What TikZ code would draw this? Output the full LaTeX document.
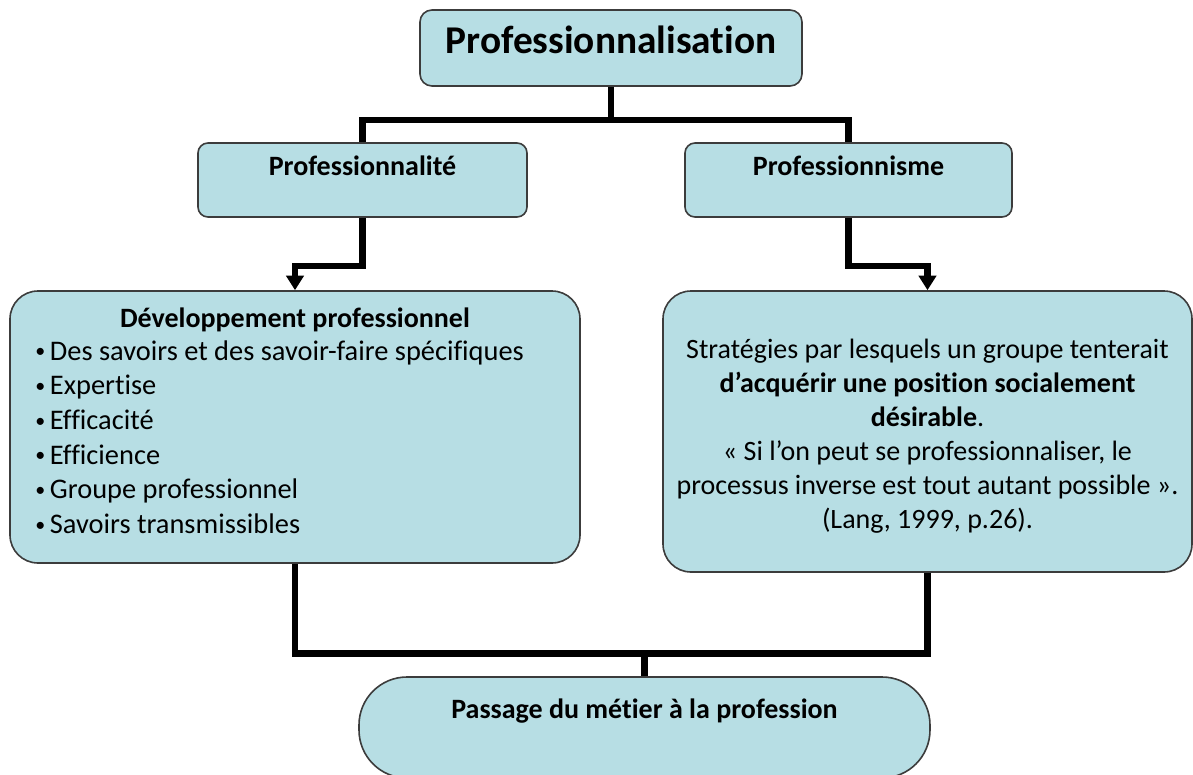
\documentclass[tikz,border=0pt]{standalone}
\usepackage{fontspec}
\setmainfont{Carlito}[Ligatures=NoCommon]
\usetikzlibrary{arrows.meta}

\definecolor{boxblue}{RGB}{183,222,228}
\definecolor{boxedge}{RGB}{60,60,60}
\newcommand\pxu{0.75pt}
\newcommand\listdot{\makebox[11pt][l]{\raisebox{1.6pt}{\fontsize{15}{15}\selectfont •}}}

\tikzset{
  box/.style={draw=boxedge, line width=1.2pt, fill=boxblue, rectangle,
              rounded corners=#1, inner sep=0pt},
  box/.default=7.5pt,
  link/.style={line width=5pt, draw=black},
  arrowlink/.style={link, -{Triangle[width=13pt,length=11pt]}},
  txt/.style={anchor=base, inner sep=0pt, font=\fontsize{21}{25}\selectfont},
  head/.style={txt, font=\fontsize{21}{25}\selectfont\bfseries},
  item/.style={anchor=base west, inner sep=0pt, font=\fontsize{21.3}{25}\selectfont},
}

\begin{document}
\begin{tikzpicture}[x=0.75pt, y=-0.75pt]
  \useasboundingbox (0,0) rectangle (1193,775);

  % boxes
  \node[box=9pt, minimum width=382*\pxu, minimum height=76*\pxu] (top) at (611,48) {};
  \node[box, minimum width=329*\pxu, minimum height=74*\pxu] (p1) at (362.5,180) {};
  \node[box, minimum width=327*\pxu, minimum height=74*\pxu] (p2) at (848.5,180) {};
  \node[box=21pt, minimum width=570*\pxu, minimum height=272*\pxu] (L) at (295,427) {};
  \node[box=21pt, minimum width=529*\pxu, minimum height=281*\pxu] (R) at (927.5,431.5) {};
  \node[box=36pt, minimum width=571*\pxu, minimum height=101*\pxu] (B) at (644.5,727.5) {};

  % connectors
  \coordinate (tbus) at (611,120);
  \coordinate (mid) at (600,266);
  \coordinate (bbus) at (644.5,653.5);
  \draw[link] (top.south) -- (tbus);
  \draw[link] (p1.north) |- (tbus) -| (p2.north);
  \draw[arrowlink] (p1.south) -- (p1.south |- mid) -| (L.north);
  \draw[arrowlink] (p2.south) -- (p2.south |- mid) -| (R.north);
  \draw[link] (L.south) |- (bbus) -| (R.south);
  \draw[link] (bbus) -- (B.north);

  % titles
  \node[anchor=base, inner sep=0pt, font=\fontsize{29.5}{34}\selectfont\bfseries] (topT) at (611,53) {Professionnalisation};
  \node[head] (p1T) at (362.5,175) {Professionnalité};
  \node[head] (p2T) at (848.5,175) {Professionnisme};
  \node[head] (BT) at (644.5,718) {Passage du métier à la profession};

  % left box: list
  \node[head] (LT) at (295,327) {Développement professionnel};
  \foreach \t [count=\i from 0] in {Des savoirs et des savoir-faire spécifiques,
      Expertise, Efficacité, Efficience, Groupe professionnel, Savoirs transmissibles}
    \node[item] (li\i) at (35,360+34.7*\i) {\listdot\t};

  % right box: text
  \node[txt] (r1) at (927.5,358) {Stratégies par lesquels un groupe tenterait};
  \node[txt, font=\fontsize{21}{25}\selectfont\bfseries] (r2) at (927.5,392) {d’acquérir une position socialement};
  \node[txt] (r3) at (927.5,426) {\textbf{désirable}.};
  \node[txt] (r4) at (927.5,460) {« Si l’on peut se professionnaliser, le};
  \node[txt] (r5) at (927.5,494) {processus inverse est tout autant possible ».};
  \node[txt] (r6) at (927.5,528) {(Lang, 1999, p.26).};
\end{tikzpicture}
\end{document}
